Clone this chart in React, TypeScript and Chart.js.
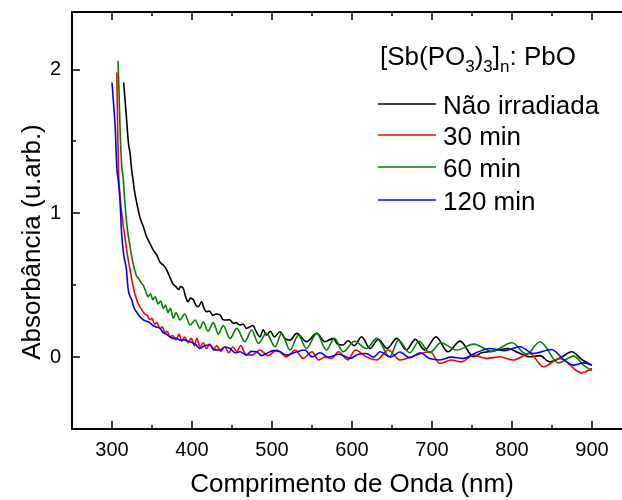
import { useEffect, useRef } from "react";
import { Chart, registerables } from "chart.js";

Chart.register(...registerables);

const FONT = "'Liberation Sans', Arial, Helvetica, sans-serif";

const xTicks = [300, 400, 500, 600, 700, 800, 900];
const xMinorTicks = [250, 350, 450, 550, 650, 750, 850, 950];
const yTicks = [0, 1, 2];
const yMinorTicks = [-0.5, 0.5, 1.5];

const xTitle = "Comprimento de Onda (nm)";
const yTitle = "Absorbância (u.arb.)";
const seriesLabels = ["Não irradiada", "30 min", "60 min", "120 min"];
const seriesColors = ["#000000", "#ff0000", "#008000", "#0000ff"];

const naoIrradiada: [number, number][] = [
  [314.6, 1.91], [318, 1.67], [320.5, 1.49], [322.5, 1.42], [324.6, 1.3], [326, 1.245], [328, 1.16], [331, 1.07],
  [335, 0.97], [339, 0.91], [343, 0.84], [347.5, 0.79], [352, 0.74], [356, 0.71], [360, 0.66], [364, 0.64],
  [368, 0.61], [372, 0.56], [376, 0.51], [380, 0.49], [383, 0.47], [386, 0.49], [389, 0.48], [392, 0.42],
  [395, 0.385], [398, 0.41], [401.6, 0.4], [405, 0.36], [408, 0.35], [412, 0.385], [415, 0.34], [418, 0.316],
  [422, 0.32], [426, 0.29], [430, 0.3], [435, 0.293], [439, 0.26], [443, 0.258], [447, 0.26], [451.6, 0.235],
  [455, 0.24], [460, 0.223], [464, 0.23], [468, 0.2], [472, 0.21], [476, 0.22], [480, 0.18], [485, 0.14],
  [489, 0.19], [493, 0.153], [498, 0.18], [503, 0.14], [510, 0.176], [516, 0.13], [522.5, 0.118], [531, 0.165],
  [543, 0.107], [556, 0.165], [566, 0.107], [576.6, 0.13], [582, 0.09], [589, 0.084], [595, 0.114], [603, 0.08],
  [612, 0.141], [622.5, 0.06], [633, 0.123], [644, 0.06], [656, 0.13], [668, 0.049], [679, 0.123], [691, 0.049],
  [705, 0.141], [720, 0.037], [735, 0.111], [752, 0.002], [762, 0.03], [775, 0.04], [795, 0.06], [808, 0.03],
  [822, 0.002], [835, 0.01], [847, -0.033], [862, 0.0], [874.6, 0.037], [888, -0.02], [900, -0.056],
];

const min30: [number, number][] = [
  [306, 1.98], [307, 1.62], [308, 1.32], [310, 1.12], [313, 0.96], [316, 0.84], [319, 0.72], [322.5, 0.61],
  [326, 0.5], [329, 0.43], [333, 0.37], [337, 0.33], [341, 0.3], [344, 0.29], [347.5, 0.26], [350, 0.27],
  [353, 0.23], [356, 0.24], [360, 0.2], [363, 0.21], [366, 0.17], [369, 0.18], [372.5, 0.14], [376, 0.15],
  [380, 0.12], [384, 0.16], [387, 0.11], [391, 0.14], [395, 0.1], [399, 0.13], [403, 0.08], [406, 0.13],
  [410, 0.07], [414, 0.1], [418, 0.06], [422, 0.09], [427, 0.05], [431, 0.08], [436, 0.04], [441, 0.07],
  [446, 0.03], [451, 0.07], [456, 0.04], [461, 0.08], [467, 0.02], [474.6, 0.014], [480, 0.03], [485, 0.049],
  [495, 0.01], [506, 0.049], [518, 0.002], [529, 0.049], [539, -0.009], [550, 0.037], [558, -0.02], [566, 0.0],
  [574.6, -0.009], [583, 0.037], [595, -0.02], [604, 0.049], [618, 0.002], [631, -0.02], [645, 0.049], [660, -0.02],
  [678, 0.01], [697.5, 0.037], [710, -0.044], [724, -0.02], [737, -0.033], [751.6, 0.014], [768, -0.009], [785, 0.002],
  [801.6, -0.02], [822.5, 0.025], [839, -0.067], [860, -0.009], [887, -0.11], [900, -0.079],
];

const min60: [number, number][] = [
  [307.5, 2.06], [309, 1.8], [310, 1.6], [312, 1.34], [314, 1.245], [316, 1.08], [319, 0.9], [322.5, 0.77],
  [326, 0.66], [331, 0.56], [333, 0.55], [336, 0.52], [339, 0.5], [342, 0.46], [345, 0.42], [348, 0.44],
  [351, 0.4], [354, 0.42], [357.5, 0.37], [361, 0.39], [364, 0.34], [367, 0.36], [370, 0.31], [373, 0.34],
  [376.6, 0.27], [380, 0.31], [385, 0.258], [391, 0.3], [397.5, 0.223], [404, 0.258], [410, 0.2], [414, 0.246],
  [420, 0.18], [426.6, 0.24], [433, 0.16], [439, 0.22], [447.5, 0.13], [456, 0.2], [466, 0.107], [474.6, 0.188],
  [483, 0.095], [493, 0.165], [504, 0.072], [512, 0.165], [522.5, 0.049], [533, 0.153], [543, 0.06], [556, 0.165],
  [568, 0.049], [578, 0.13], [589, 0.037], [603, 0.11], [618, 0.06], [631, 0.13], [647, 0.002], [658, 0.118],
  [672, 0.03], [684, 0.11], [697, 0.03], [711, 0.1], [731, 0.049], [752, 0.09], [775, 0.04], [800, 0.1],
  [818, 0.02], [835, 0.107], [858, -0.04], [877, 0.007], [890, -0.06], [900, -0.095],
];

const min120: [number, number][] = [
  [300, 1.91], [302, 1.76], [304, 1.6], [306, 1.32], [308, 1.22], [310, 1.09], [312, 0.86], [315, 0.7],
  [318, 0.61], [320, 0.48], [322, 0.43], [324.6, 0.4], [327, 0.35], [331, 0.31], [335, 0.28], [339, 0.26],
  [343, 0.25], [347, 0.24], [351, 0.22], [355, 0.21], [360, 0.2], [364, 0.17], [368, 0.16], [372.5, 0.14],
  [377, 0.13], [381, 0.13], [385, 0.118], [390, 0.12], [397.5, 0.107], [404, 0.09], [410, 0.06], [416, 0.08],
  [422.5, 0.084], [428, 0.05], [435, 0.049], [441, 0.07], [447.5, 0.06], [454, 0.03], [460, 0.037], [468, 0.014],
  [474, 0.04], [481, 0.037], [487, 0.01], [493, 0.025], [502, 0.045], [510, 0.037], [518, 0.014], [530, 0.035],
  [541, 0.049], [550, 0.002], [560, 0.03], [570, 0.0], [584, 0.02], [597.5, -0.009], [608, 0.02], [618, 0.025],
  [627, 0.0], [635, 0.037], [648, 0.0], [660, 0.035], [672, -0.005], [685, 0.03], [697, -0.01], [710, -0.02],
  [724, 0.0], [739, -0.009], [755, 0.03], [772, 0.06], [790, 0.045], [810, 0.072], [826.6, 0.025], [849.6, 0.053],
  [865, -0.02], [876.6, -0.056], [890, -0.04], [900, -0.056],
];

const allSeries = [naoIrradiada, min30, min60, min120];

const overlay = {
  id: "overlay",
  afterDraw(chart: any) {
    const { ctx, chartArea: a, scales } = chart;
    const x = scales.x;
    const y = scales.y;
    ctx.save();
    ctx.strokeStyle = "#000";
    ctx.lineWidth = 2;
    ctx.strokeRect(a.left, a.top, a.right - a.left, a.bottom - a.top);

    ctx.lineWidth = 1.5;
    ctx.beginPath();
    const xt = (v: number, len: number) => {
      const px = Math.round(x.getPixelForValue(v));
      ctx.moveTo(px, a.bottom);
      ctx.lineTo(px, a.bottom - len);
      ctx.moveTo(px, a.top);
      ctx.lineTo(px, a.top + len);
    };
    xTicks.forEach((v) => xt(v, 8));
    xMinorTicks.forEach((v) => xt(v, 4));
    const yt = (v: number, len: number) => {
      const py = Math.round(y.getPixelForValue(v));
      ctx.moveTo(a.left, py);
      ctx.lineTo(a.left + len, py);
      ctx.moveTo(a.right, py);
      ctx.lineTo(a.right - len, py);
    };
    yTicks.forEach((v) => yt(v, 8));
    yMinorTicks.forEach((v) => yt(v, 4));
    ctx.stroke();

    ctx.fillStyle = "#000";
    ctx.font = `26px ${FONT}`;
    ctx.textAlign = "center";
    ctx.textBaseline = "alphabetic";
    ctx.fillText(xTitle, (a.left + a.right) / 2, 492);

    ctx.save();
    ctx.translate(40, 242);
    ctx.rotate(-Math.PI / 2);
    ctx.fillText(yTitle, 0, 0);
    ctx.restore();

    ctx.textAlign = "left";
    const parts: [string, boolean][] = [
      ["[Sb(PO", false], ["3", true], [")", false], ["3", true], ["]", false], ["n", true], [": PbO", false],
    ];
    let cx = 380;
    const base = 65;
    parts.forEach(([t, sub]) => {
      ctx.font = sub ? `17px ${FONT}` : `26px ${FONT}`;
      ctx.fillText(t, cx, sub ? base + 7 : base);
      cx += ctx.measureText(t).width;
    });

    ctx.font = `26px ${FONT}`;
    const rows = [104, 135, 167, 200];
    seriesLabels.forEach((lab, i) => {
      ctx.strokeStyle = seriesColors[i];
      ctx.lineWidth = 1.6;
      ctx.beginPath();
      ctx.moveTo(378, rows[i]);
      ctx.lineTo(436, rows[i]);
      ctx.stroke();
      ctx.fillText(lab, 443, rows[i] + 9.5);
    });
    ctx.restore();
  },
};

export default function App() {
  const ref = useRef<HTMLCanvasElement | null>(null);
  useEffect(() => {
    if (!ref.current) return;
    const chart = new Chart(ref.current, {
      type: "line",
      data: {
        datasets: allSeries.map((s, i) => ({
          label: seriesLabels[i],
          data: s.map(([xv, yv]) => ({ x: xv, y: yv })),
          borderColor: seriesColors[i],
          backgroundColor: seriesColors[i],
          borderWidth: 1.6,
          pointRadius: 0,
          fill: false,
          cubicInterpolationMode: "monotone" as const,
          order: 3 - i,
        })),
      },
      options: {
        responsive: false,
        animation: false,
        devicePixelRatio: 1,
        layout: { padding: { top: 12, right: 8, left: 0, bottom: 0 } },
        plugins: { legend: { display: false }, tooltip: { enabled: false }, title: { display: false } },
        scales: {
          x: {
            type: "linear",
            min: 250,
            max: 950,
            grid: { display: false, drawTicks: false },
            border: { display: false },
            ticks: { font: { family: FONT, size: 20 }, color: "#000", padding: 9, maxRotation: 0 },
            afterBuildTicks: (s: any) => {
              s.ticks = xTicks.map((v) => ({ value: v }));
            },
            afterFit: (s: any) => {
              s.height = 71;
              s.paddingLeft = 0;
              s.paddingRight = 0;
            },
          },
          y: {
            type: "linear",
            min: -0.5,
            max: 2.4,
            grid: { display: false, drawTicks: false },
            border: { display: false },
            ticks: { font: { family: FONT, size: 20 }, color: "#000", padding: 11 },
            afterBuildTicks: (s: any) => {
              s.ticks = yTicks.map((v) => ({ value: v }));
            },
            afterFit: (s: any) => {
              s.width = 72;
              s.paddingTop = 0;
              s.paddingBottom = 0;
            },
          },
        },
      },
      plugins: [overlay],
    });
    return () => chart.destroy();
  }, []);
  return (
    <div style={{ position: "fixed", left: 0, top: 0, width: 622, height: 500, overflow: "hidden", background: "#fff" }}>
      <canvas ref={ref} width={640} height={500} style={{ display: "block" }} />
    </div>
  );
}
